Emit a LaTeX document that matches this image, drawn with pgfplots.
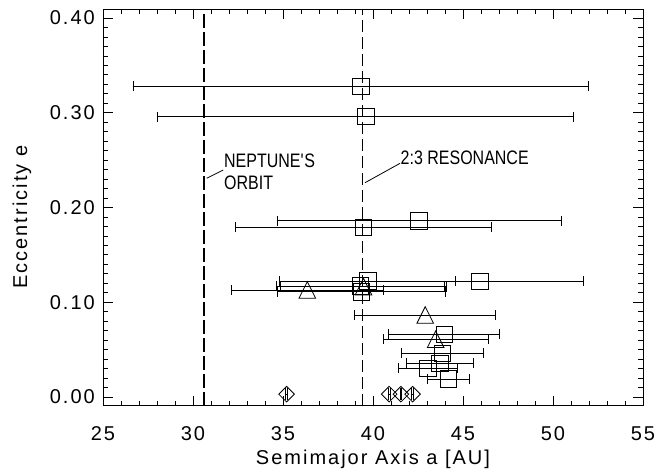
\documentclass[border=0pt]{standalone}
\usepackage{fontspec}
\setmainfont{Liberation Sans}[LetterSpace=10]
\newfontfamily\annfont{Liberation Sans}[FakeStretch=0.82]
\usepackage{pgfplots}
\pgfplotsset{compat=1.18}

\pgfdeclareplotmark{idltri}{%
  \pgfpathmoveto{\pgfqpoint{-\pgfplotmarksize}{-\pgfplotmarksize}}%
  \pgfpathlineto{\pgfqpoint{0pt}{\pgfplotmarksize}}%
  \pgfpathlineto{\pgfqpoint{\pgfplotmarksize}{-\pgfplotmarksize}}%
  \pgfpathclose\pgfusepathqstroke}
\pgfdeclareplotmark{idldia}{%
  \pgfpathmoveto{\pgfqpoint{0pt}{\pgfplotmarksize}}%
  \pgfpathlineto{\pgfqpoint{\pgfplotmarksize}{0pt}}%
  \pgfpathlineto{\pgfqpoint{0pt}{-\pgfplotmarksize}}%
  \pgfpathlineto{\pgfqpoint{-\pgfplotmarksize}{0pt}}%
  \pgfpathclose\pgfusepathqstroke}

\pgfplotstableread{
x y ex
39.33 0.328 12.65
39.59 0.296 11.55
39.46 0.179 7.10
42.56 0.186 7.89
45.94 0.122 5.74
39.70 0.1225 4.90
39.30 0.117 4.69
39.35 0.111 4.65
43.96 0.066 3.08
43.85 0.046 2.29
43.72 0.0356 1.85
43.06 0.0303 1.63
44.18 0.019 1.16
}\squares
\pgfplotstableread{
x y ex
36.35 0.113 4.20
39.47 0.1165 4.63
42.90 0.0865 3.91
43.48 0.061 2.91
}\triangles
\pgfplotstableread{
x y ex
35.20 0.003 0.05
40.90 0.003 0.05
41.55 0.003 0.05
42.20 0.003 0.05
}\diamonds

\begin{document}
\begin{tikzpicture}
\begin{axis}[
  at={(0,0)}, anchor=south west,
  scale only axis, width=540bp, height=396.2bp,
  xmin=25, xmax=55, ymin=-0.0092, ymax=0.409,
  xtick={25,30,35,40,45,50,55}, xticklabels={25,30,35,40,45,50,55},
  ytick={0,0.1,0.2,0.3,0.4}, yticklabels={0.00,0.10,0.20,0.30,0.40},
  minor x tick num=4, minor y tick num=9,
  major tick length=10bp, minor tick length=5bp,
  tick align=inside, tick style={black, line width=0.8bp},
  axis line style={line width=0.8bp},
  tick label style={font=\fontsize{20bp}{24bp}\selectfont},
  label style={font=\fontsize{20bp}{24bp}\selectfont},
  xticklabel style={anchor=base, yshift=-34.3bp},
  yticklabel style={anchor=east, inner sep=0pt, xshift=-8bp},
  xlabel={Semimajor Axis a [AU]},
  ylabel={Eccentricity e},
  xlabel style={at={(rel axis cs:0.5,0)}, anchor=base, yshift=-58.3bp},
  ylabel style={at={(rel axis cs:0,0.476)}, anchor=center, yshift=81bp},
  clip=false,
]
\addplot[black, line width=1.5bp, dash pattern=on 14bp off 4bp] coordinates {(30.6,-0.0092) (30.6,0.409)};
\addplot[black, line width=0.9bp, dash pattern=on 12bp off 5bp] coordinates {(39.4,-0.0092) (39.4,0.409)};

\addplot[black, only marks, mark=square, mark size=8.3bp, line width=0.8bp,
  error bars/.cd, x dir=both, x explicit, error mark=|,
  error bar style={line width=0.8bp},
  error mark options={mark size=5bp, line width=0.8bp}]
  table[x=x, y=y, x error=ex]{\squares};
\addplot[black, only marks, mark=idltri, mark size=8.3bp, line width=0.8bp,
  error bars/.cd, x dir=both, x explicit, error mark=|,
  error bar style={line width=0.8bp},
  error mark options={mark size=5bp, line width=0.8bp}]
  table[x=x, y=y, x error=ex]{\triangles};
\addplot[black, only marks, mark=idldia, mark size=7.8bp, line width=0.8bp,
  error bars/.cd, x dir=both, x explicit, error mark=|,
  error bar style={line width=0.8bp},
  error mark options={mark size=6bp, line width=0.8bp}]
  table[x=x, y=y, x error=ex]{\diamonds};

\draw[line width=0.8bp] (axis cs:30.76,0.2308) -- (axis cs:31.68,0.2396);
\draw[line width=0.8bp] (axis cs:39.56,0.2262) -- (axis cs:41.5,0.2466);
\node[anchor=west, inner sep=0pt, font=\annfont\fontsize{19.5bp}{22bp}\selectfont] at (axis cs:31.72,0.249) {NEPTUNE\textquotesingle S};
\node[anchor=west, inner sep=0pt, font=\annfont\fontsize{19.5bp}{22bp}\selectfont] at (axis cs:31.72,0.226) {ORBIT};
\node[anchor=west, inner sep=0pt, font=\annfont\fontsize{19.5bp}{22bp}\selectfont] at (axis cs:41.53,0.252) {2:3 RESONANCE};
\end{axis}
\pgfresetboundingbox
\path[use as bounding box] (-103bp,-67.3bp) rectangle (563bp,405.7bp);
\end{tikzpicture}
\end{document}
